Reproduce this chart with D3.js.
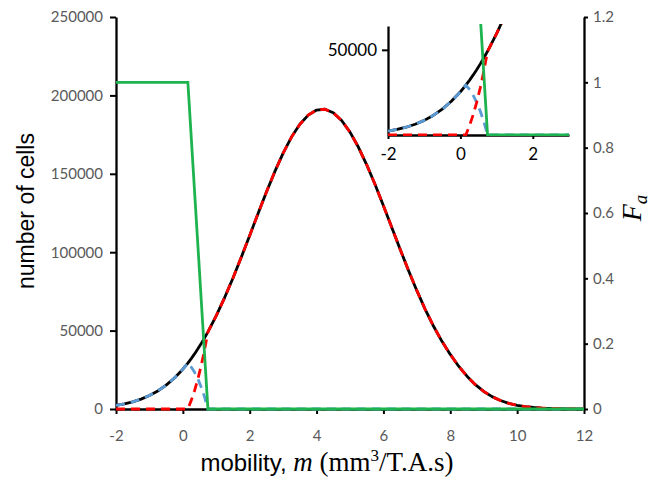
<!DOCTYPE html>
<html>
<head>
<meta charset="utf-8">
<script src="https://cdn.jsdelivr.net/npm/d3@7/dist/d3.min.js"></script>
<style>
  html, body { margin: 0; padding: 0; background: #fff; }
  svg { display: block; }
</style>
</head>
<body>
<svg id="chart" width="666" height="478"></svg>
<script>
// ---------------- DATA ----------------
const mobility = [
  -2, -1.75, -1.5, -1.25, -1, -0.75, -0.5, -0.25, 0,
  0.15, 0.25, 0.35, 0.45, 0.55, 0.65, 0.75,
  1, 1.25, 1.5, 1.75, 2, 2.25, 2.5, 2.75, 3, 3.25, 3.5, 3.75,
  4, 4.25, 4.5, 4.75, 5, 5.25, 5.5, 5.75, 6, 6.25, 6.5, 6.75,
  7, 7.25, 7.5, 7.75, 8, 8.25, 8.5, 8.75, 9, 9.25, 9.5, 9.75,
  10, 10.25, 10.5, 10.75, 11, 11.25, 11.5, 11.75, 12
];
// total number of cells (black solid)
const totalCells = [
  2300, 3270, 4570, 6310, 8580, 11490, 15190, 19790, 25380,
  29270, 32100, 35130, 38360, 41760, 45380, 49150,
  59550, 71070, 83580, 96910, 110700, 124690, 138370, 151360, 163180, 173400, 181580, 187420,
  190660, 191160, 188890, 183970, 176590, 167060, 155750, 143150, 129660, 115740, 101830, 88310,
  75470, 63570, 52760, 43160, 34810, 27300, 20900, 15500, 11200, 7900, 5400, 3600,
  2350, 1500, 950, 580, 350, 210, 120, 70, 40
];
// cells retained (blue dashed)
const blueCells = [
  2300, 3270, 4570, 6310, 8580, 11490, 15190, 19790, 25380,
  29270, 26750, 23420, 19180, 13920, 7560, 0,
  0, 0, 0, 0, 0, 0, 0, 0, 0, 0, 0, 0,
  0, 0, 0, 0, 0, 0, 0, 0, 0, 0, 0, 0,
  0, 0, 0, 0, 0, 0, 0, 0, 0, 0, 0, 0,
  0, 0, 0, 0, 0, 0, 0, 0, 0
];
// cells passed (red dashed)
const redCells = [
  0, 0, 0, 0, 0, 0, 0, 0, 0,
  0, 5350, 11710, 19180, 27840, 37820, 49150,
  59550, 71070, 83580, 96910, 110700, 124690, 138370, 151360, 163180, 173400, 181580, 187420,
  190660, 191160, 188890, 183970, 176590, 167060, 155750, 143150, 129660, 115740, 101830, 88310,
  75470, 63570, 52760, 43160, 34810, 27300, 20900, 15500, 11200, 7900, 5400, 3600,
  2350, 1500, 950, 580, 350, 210, 120, 70, 40
];
// F_a (green, right axis)
const faMobility = [-2, 0.15, 0.75, 12];
const faValues = [1, 1, 0, 0];

// tick labels
const xTicks = [-2, 0, 2, 4, 6, 8, 10, 12];
const yTicks = [0, 50000, 100000, 150000, 200000, 250000];
const y2Ticks = [0, 0.2, 0.4, 0.6, 0.8, 1, 1.2];
const insetXTicks = [-2, 0, 2];
const insetYTicks = [50000];

// ---------------- DRAWING ----------------
const svg = d3.select("#chart");
const tickFont = "Lato, 'Liberation Sans', sans-serif";
const sans = "'Liberation Sans', Arial, sans-serif";
const serif = "'Liberation Serif', 'Times New Roman', serif";

const COL = { black: "#000", red: "#ff0000", blue: "#5b9bd5", green: "#1db34f" };
const LW = 2.8;

const x = d3.scaleLinear().domain([-2, 12]).range([116, 584]);
const y = d3.scaleLinear().domain([0, 250000]).range([409, 17]);
const y2 = d3.scaleLinear().domain([0, 1.2]).range([409, 17]);

const mainPts = mobility.map((m, i) => ({ m, t: totalCells[i], b: blueCells[i], r: redCells[i] }));
const faPts = faMobility.map((m, i) => ({ m, f: faValues[i] }));

function styleAxis(g, color, size, fam) {
  g.selectAll("path.domain").attr("stroke", "#000").attr("stroke-width", 2.3);
  g.selectAll(".tick line").attr("stroke", "#000").attr("stroke-width", 2);
  g.selectAll(".tick text").attr("fill", color).style("font-size", size + "px").style("font-family", fam);
}

// axes
const gx = svg.append("g").attr("transform", "translate(0,409)")
  .call(d3.axisBottom(x).tickValues(xTicks).tickSize(5).tickSizeOuter(0).tickPadding(16).tickFormat(d => String(d)));
styleAxis(gx, "#595959", 15, tickFont);

const gy = svg.append("g").attr("transform", "translate(116,0)")
  .call(d3.axisLeft(y).tickValues(yTicks).tickSize(6).tickSizeOuter(0).tickPadding(7).tickFormat(d => String(d)));
styleAxis(gy, "#595959", 15, tickFont);

const gy2 = svg.append("g").attr("transform", "translate(584,0)")
  .call(d3.axisRight(y2).tickValues(y2Ticks).tickSize(4).tickSizeOuter(0).tickPadding(5).tickFormat(d => String(d)));
styleAxis(gy2, "#595959", 15, tickFont);

// series lines
function drawSeries(g, xs, ys, ys2) {
  const lt = d3.line().x(d => xs(d.m)).y(d => ys(d.t));
  const lb = d3.line().x(d => xs(d.m)).y(d => ys(d.b));
  const lr = d3.line().x(d => xs(d.m)).y(d => ys(d.r));
  const lf = d3.line().x(d => xs(d.m)).y(d => ys2(d.f));
  g.append("path").datum(mainPts).attr("d", lt).attr("fill", "none")
    .attr("stroke", COL.black).attr("stroke-width", LW).attr("stroke-linejoin", "round");
  g.append("path").datum(mainPts).attr("d", lb).attr("fill", "none")
    .attr("stroke", COL.blue).attr("stroke-width", LW).attr("stroke-dasharray", "9,6");
  g.append("path").datum(mainPts).attr("d", lr).attr("fill", "none")
    .attr("stroke", COL.red).attr("stroke-width", LW).attr("stroke-dasharray", "9,6");
  g.append("path").datum(faPts).attr("d", lf).attr("fill", "none")
    .attr("stroke", COL.green).attr("stroke-width", LW).attr("stroke-linejoin", "miter");
}
drawSeries(svg.append("g"), x, y, y2);

// axis titles
svg.append("text")
  .attr("transform", "translate(34,211) rotate(-90)")
  .attr("text-anchor", "middle")
  .style("font-family", sans).style("font-size", "23px").attr("fill", "#000")
  .text("number of cells");

const xt = svg.append("text")
  .attr("x", 327).attr("y", 471).attr("text-anchor", "middle")
  .attr("fill", "#000");
xt.append("tspan").style("font-family", sans).style("font-size", "24px").text("mobility, ");
xt.append("tspan").style("font-family", serif).style("font-size", "27px").style("font-style", "italic").text("m");
xt.append("tspan").style("font-family", serif).style("font-size", "27px").text(" (mm");
xt.append("tspan").style("font-family", serif).style("font-size", "17px").attr("dy", -10).text("3");
xt.append("tspan").style("font-family", serif).style("font-size", "27px").attr("dy", 10).text("/T.A.s)");

const fa = svg.append("text")
  .attr("transform", "translate(641,208) rotate(-90)")
  .attr("text-anchor", "middle").attr("fill", "#000")
  .style("font-family", serif).style("font-style", "italic");
fa.append("tspan").style("font-size", "28px").text("F");
fa.append("tspan").style("font-size", "19px").attr("dy", 6).text("a");

// ---------------- INSET ----------------
const ix = d3.scaleLinear().domain([-2, 3]).range([388, 569]);
const iy = d3.scaleLinear().domain([0, 64000]).range([135, 26]);
const iy2 = d3.scaleLinear().domain([0, 1.2 * 64000 / 250000]).range([135, 26]);

const inset = svg.append("g");
inset.append("rect").attr("x", 388).attr("y", 26).attr("width", 181).attr("height", 109).attr("fill", "#fff");
svg.append("clipPath").attr("id", "insetClip")
  .append("rect").attr("x", 388).attr("y", 24).attr("width", 181).attr("height", 112);

const igx = inset.append("g").attr("transform", "translate(0,135)")
  .call(d3.axisBottom(ix).tickValues(insetXTicks).tickSize(4).tickSizeOuter(0).tickPadding(9).tickFormat(d => String(d)));
styleAxis(igx, "#000", 17, tickFont);
const igy = inset.append("g").attr("transform", "translate(388,0)")
  .call(d3.axisLeft(iy).tickValues(insetYTicks).tickSize(6).tickSizeOuter(0).tickPadding(5).tickFormat(d => String(d)));
styleAxis(igy, "#000", 17, tickFont);

drawSeries(inset.append("g").attr("clip-path", "url(#insetClip)"), ix, iy, iy2);
</script>
</body>
</html>
